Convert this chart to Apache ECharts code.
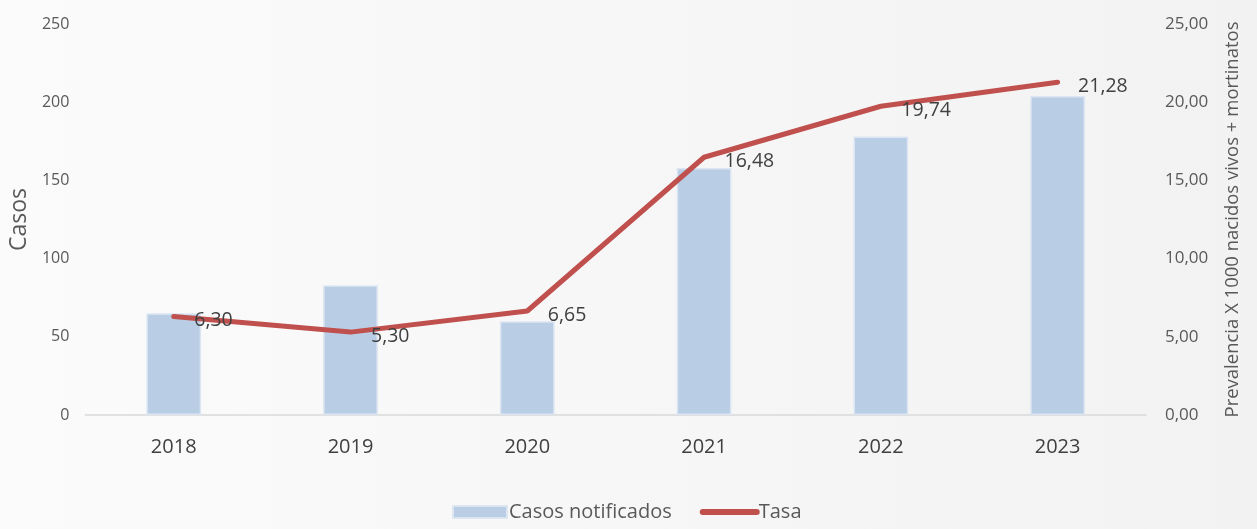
<!DOCTYPE html>
<html>
<head>
<meta charset="utf-8">
<script src="https://cdn.jsdelivr.net/npm/echarts@6/dist/echarts.min.js"></script>
<style>
  html, body { margin: 0; padding: 0; }
  #chart { width: 1257px; height: 529px; }
</style>
</head>
<body>
<div id="chart"></div>
<script>
// datos
var years = ['2018', '2019', '2020', '2021', '2022', '2023'];
var casos = [65, 83, 60, 158, 178, 204];
var tasa = [6.30, 5.30, 6.65, 16.48, 19.74, 21.28];

var FONT = 'Open Sans';

var myChart = echarts.init(document.getElementById('chart'));

var fmt = function (v) { return v.toFixed(2).replace('.', ','); };

var option = {
  backgroundColor: {
    type: 'linear', x: 0, y: 0, x2: 1, y2: 0,
    colorStops: [{ offset: 0, color: '#fbfbfb' }, { offset: 1, color: '#f2f2f2' }]
  },
  textStyle: { fontFamily: FONT },
  grid: { left: 84, right: 111, top: 24, bottom: 114 },
  legend: {
    bottom: 2,
    left: 447,
    itemGap: 28,
    itemWidth: 54,
    itemHeight: 12,
    textStyle: { fontSize: 20, color: '#595959', fontFamily: FONT, padding: [0, 0, 0, -3] },
    data: [
      { name: 'Casos notificados', icon: 'rect' },
      { name: 'Tasa', lineStyle: { width: 6, cap: 'round', color: '#c0504d' }, itemStyle: { opacity: 0 } }
    ]
  },
  xAxis: {
    type: 'category',
    data: years,
    axisTick: { show: false },
    axisLine: { lineStyle: { color: '#d9d9d9', width: 1.5 } },
    axisLabel: { fontSize: 20, color: '#404040', margin: 22, fontFamily: FONT }
  },
  yAxis: [
    {
      type: 'value',
      min: 0, max: 250, interval: 50,
      name: 'Casos',
      nameLocation: 'middle',
      nameGap: 44,
      nameTextStyle: { fontSize: 23, color: '#595959', fontFamily: FONT },
      splitLine: { show: false },
      axisLine: { show: false },
      axisLabel: { fontSize: 16, color: '#595959', margin: 16, fontFamily: FONT }
    },
    {
      type: 'value',
      min: 0, max: 25, interval: 5,
      name: 'Prevalencia X 1000 nacidos vivos + mortinatos',
      nameLocation: 'middle',
      nameGap: 77,
      nameRotate: 90,
      nameTextStyle: { fontSize: 18.5, color: '#595959', fontFamily: FONT },
      splitLine: { show: false },
      axisLine: { show: false },
      axisLabel: { fontSize: 17, color: '#595959', margin: 19, fontFamily: FONT, formatter: fmt }
    }
  ],
  series: [
    {
      name: 'Casos notificados',
      type: 'bar',
      data: casos,
      barWidth: '31%',
      itemStyle: { color: '#b9cde5', borderColor: '#dce6f2', borderWidth: 1.5 }
    },
    {
      name: 'Tasa',
      type: 'line',
      yAxisIndex: 1,
      data: tasa,
      symbol: 'circle',
      symbolSize: 1,
      lineStyle: { color: '#c0504d', width: 5, cap: 'round' },
      itemStyle: { color: '#c0504d' },
      label: {
        show: true,
        position: 'right',
        distance: 20,
        offset: [0, 4],
        fontSize: 19.5,
        color: '#404040',
        fontFamily: FONT,
        formatter: function (p) { return fmt(p.value); }
      }
    }
  ]
};

myChart.setOption(option);
</script>
</body>
</html>
